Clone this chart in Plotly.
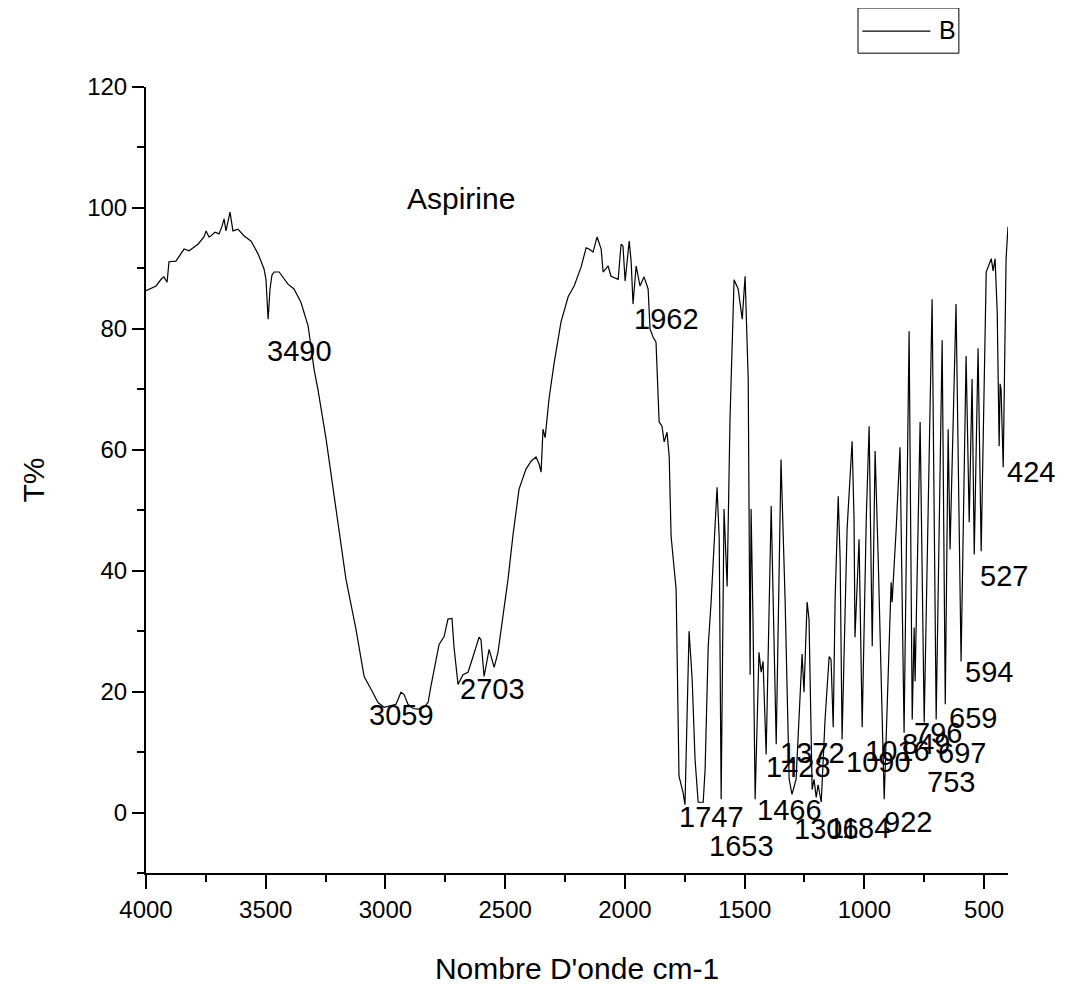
import plotly.graph_objects as go

# IR spectrum of aspirin (wavenumber cm-1, transmittance %)
wavenumber = [
    4000, 3958, 3937, 3925, 3912, 3904, 3875, 3854, 3841, 3820, 3783, 3758, 3749, 3737, 3728,
    3712, 3695, 3683, 3674, 3666, 3649, 3637, 3616, 3591, 3561, 3532, 3507, 3499, 3490, 3482,
    3474, 3465, 3444, 3407, 3382, 3353, 3323, 3298, 3282,
    3248, 3206, 3165, 3123, 3089, 3060, 3031, 3006, 2977, 2956, 2935, 2922, 2906, 2885, 2864,
    2839, 2822, 2810, 2776, 2755, 2739, 2722, 2714, 2697, 2676, 2655, 2634, 2609, 2601, 2588,
    2567, 2546, 2530, 2505, 2488,
    2467, 2442, 2413, 2392, 2371, 2358, 2350, 2342, 2333, 2317, 2296, 2267,
    2237, 2212, 2183, 2162, 2150, 2133, 2116, 2099, 2091, 2070, 2058, 2041, 2028, 2016, 2008,
    1999, 1991, 1982, 1974, 1966, 1953, 1937, 1920, 1903, 1895, 1882, 1870, 1857, 1845, 1836,
    1824, 1815, 1807, 1799, 1795, 1786, 1774, 1757, 1749,
    1732, 1719, 1707, 1694, 1673, 1665, 1652, 1640, 1623, 1615, 1606, 1598, 1586, 1573, 1561,
    1544, 1527, 1510, 1498, 1485, 1477, 1473, 1465, 1456, 1440, 1431, 1423, 1410, 1389, 1368,
    1348, 1331, 1314, 1302, 1285, 1260, 1252, 1239, 1231, 1218, 1210, 1201, 1193, 1180, 1164,
    1147, 1139, 1130, 1122, 1109, 1101, 1093, 1072, 1051, 1043, 1039, 1022, 1009, 992, 980,
    967, 955, 942, 917, 888, 884, 867, 851, 834, 813, 800, 792, 788, 767, 750,
    717, 700, 675, 662, 650, 642, 617, 596, 575, 562, 550, 541, 525, 512, 491,
    470, 462, 454, 445, 437, 433, 429, 420, 408, 400,
]
transmittance = [
    86.3, 87.1, 88.2, 88.6, 87.7, 91.1, 91.2, 92.4, 93.2, 92.9, 94.0, 95.2, 96.2, 95.2, 95.4,
    96.0, 95.7, 96.9, 98.2, 96.2, 99.3, 96.2, 96.5, 95.4, 94.5, 92.4, 89.9, 88.2, 81.6, 86.6,
    88.9, 89.4, 89.4, 87.4, 86.6, 84.4, 80.5, 73.3, 70.0,
    61.8, 50.2, 38.6, 30.3, 22.5, 20.4, 18.2, 17.4, 17.7, 17.9, 19.9, 19.5, 17.9, 17.2, 17.1,
    17.4, 18.2, 20.9, 27.8, 29.1, 32.0, 32.1, 27.5, 21.2, 22.8, 23.2, 25.8, 29.0, 28.6, 22.5,
    27.0, 24.0, 26.5, 33.6, 38.6,
    46.0, 53.5, 56.8, 58.1, 58.8, 57.6, 56.3, 63.4, 62.0, 68.4, 74.2, 81.1,
    85.3, 87.1, 90.2, 93.4, 93.2, 92.7, 95.2, 93.2, 89.4, 90.4, 88.7, 88.4, 88.2, 94.0, 93.7,
    87.9, 91.6, 94.5, 91.2, 84.1, 90.4, 87.1, 88.6, 86.6, 80.0, 78.6, 77.8, 64.6, 63.9, 61.3,
    62.9, 58.9, 45.7, 42.4, 41.9, 36.9, 6.0, 3.3, 1.3,
    30.0, 22.0, 8.8, 1.7, 1.7, 7.1, 27.5, 34.8, 48.5, 53.8, 45.2, 2.2, 50.2, 37.4, 65.1,
    88.1, 86.6, 81.6, 88.7, 71.7, 22.8, 50.2, 32.0, 2.2, 26.5, 23.2, 25.0, 9.6, 50.7, 11.3,
    58.4, 35.3, 5.5, 3.0, 5.5, 26.2, 19.9, 34.8, 32.0, 3.8, 5.5, 2.5, 4.6, 1.7, 15.4,
    25.8, 25.3, 14.1, 35.3, 52.3, 41.9, 12.1, 46.9, 61.4, 48.5, 29.0, 45.2, 14.1, 48.5, 63.9,
    27.5, 59.8, 41.9, 2.2, 38.1, 34.8, 46.9, 60.4, 13.2, 79.6, 15.4, 30.6, 21.7, 64.6, 14.9,
    84.9, 15.4, 78.1, 17.9, 63.4, 43.5, 84.1, 25.0, 75.5, 48.0, 71.7, 42.7, 76.8, 43.2, 89.4,
    91.6, 89.6, 91.6, 82.8, 60.6, 70.9, 70.0, 57.1, 91.6, 96.9,
]

# Peak labels: text, anchor wavenumber, anchor T%
peak_labels = ["3490", "3059", "2703", "1962", "1747", "1653", "1466", "1428", "1372",
               "1306", "1184", "1090", "1016", "922", "849", "796", "753", "697",
               "659", "594", "527"]
label_x = [3357, 2935, 2555, 1828, 1640, 1515, 1314, 1277, 1218,
           1160, 1022, 942, 863, 817, 742, 692, 638, 592,
           546, 479, 416]
label_y = [76.3, 16.2, 20.4, 81.6, -0.7, -5.6, 0.5, 7.6, 9.9,
           -2.8, -2.5, 8.3, 10.1, -1.5, 11.3, 13.2, 5.0, 9.9,
           15.7, 23.2, 39.1]
edge_label = "424"
edge_label_x = 420
edge_label_y = 56.3

sample_name = "Aspirine"
sample_x = 2684
sample_y = 101.5

series_name = "B"

FONT = "Liberation Sans, Arial, sans-serif"

fig = go.Figure()
fig.add_trace(go.Scatter(
    x=wavenumber, y=transmittance, mode="lines", name=series_name,
    line=dict(color="black", width=1.2), showlegend=False,
))

annotations = []
for t, xv, yv in zip(peak_labels, label_x, label_y):
    annotations.append(dict(x=xv, y=yv, xref="x", yref="y", text=t, showarrow=False,
                            xanchor="center", yanchor="middle",
                            font=dict(family=FONT, size=29, color="black")))
annotations.append(dict(x=edge_label_x, y=edge_label_y, xref="x", yref="y", text=edge_label,
                        showarrow=False, xanchor="left", yanchor="middle", xshift=2,
                        font=dict(family=FONT, size=29, color="black")))
annotations.append(dict(x=sample_x, y=sample_y, xref="x", yref="y", text=sample_name,
                        showarrow=False, xanchor="center", yanchor="middle",
                        font=dict(family=FONT, size=30, color="black")))
# legend entry (drawn box, sample line and name)
annotations.append(dict(x=0.930, y=1.0725, xref="paper", yref="paper", text=series_name,
                        showarrow=False, xanchor="center", yanchor="middle",
                        font=dict(family=FONT, size=25, color="black")))

shapes = [
    dict(type="rect", xref="paper", yref="paper", x0=0.826, x1=0.943, y0=1.043, y1=1.1005,
         line=dict(color="black", width=1), fillcolor="white", layer="above"),
    dict(type="line", xref="paper", yref="paper", x0=0.831, x1=0.910, y0=1.071, y1=1.071,
         line=dict(color="black", width=1.2), layer="above"),
]

fig.update_layout(
    width=1066, height=988,
    margin=dict(l=138, r=66, t=79, b=123, autoexpand=False),
    paper_bgcolor="white", plot_bgcolor="white",
    font=dict(family=FONT, color="black"),
    annotations=annotations,
    shapes=shapes,
    showlegend=False,
    xaxis=dict(
        range=[4000, 400], tick0=0, dtick=500,
        showline=True, linecolor="black", linewidth=2,
        ticks="outside", ticklen=14, tickwidth=2, tickcolor="black",
        showgrid=False, zeroline=False,
        minor=dict(ticks="outside", ticklen=7, tickwidth=2, tickcolor="black",
                   dtick=250, tick0=0, showgrid=False),
        tickfont=dict(family=FONT, size=24, color="black"),
        title=dict(text="Nombre D'onde cm-1", standoff=36,
                   font=dict(family=FONT, size=30, color="black")),
    ),
    yaxis=dict(
        range=[-10, 120], tick0=0, dtick=20,
        showline=True, linecolor="black", linewidth=2,
        ticks="outside", ticklen=12, tickwidth=2, tickcolor="black",
        showgrid=False, zeroline=False,
        minor=dict(ticks="outside", ticklen=7, tickwidth=2, tickcolor="black",
                   dtick=10, tick0=0, showgrid=False),
        tickfont=dict(family=FONT, size=24, color="black"),
        title=dict(text="T%", standoff=34,
                   font=dict(family=FONT, size=30, color="black")),
    ),
)

fig.write_html("out.html")
